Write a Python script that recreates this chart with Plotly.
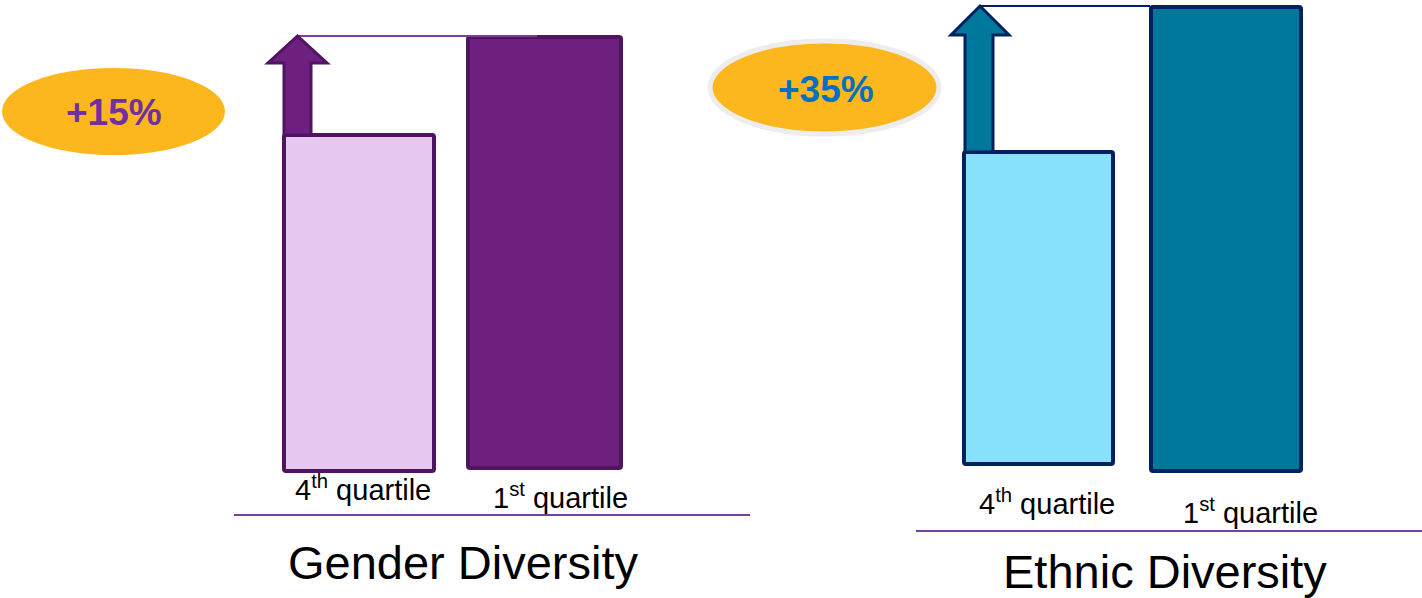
import plotly.graph_objects as go

quartiles = ["4<sup>th</sup> quartile", "1<sup>st</sup> quartile"]
panel_titles = ["Gender Diversity", "Ethnic Diversity"]
uplift_labels = ["+15%", "+35%"]

gender_base = [127, 130]
gender_height = [336, 431]
ethnic_base = [134, 127]
ethnic_height = [312, 464]

# ---- layout constants ----
W, H = 1422, 598
FONT = "Liberation Sans, Arial, sans-serif"

panels = [
    dict(base=gender_base, height=gender_height, x=[359, 544.5], w=[150, 153],
         fills=["#E8C8F0", "#6E2080"], border="#4F1560", arrow_fill="#6E2080",
         shaft=(284, 311), head=(268, 327), head_h=26, line_end=537, line_col="#7B3F9A",
         ell=(2, 225, 598 - 155, 598 - 68), ell_line=None, txt_col="#7030A0",
         txt_xy=(114, 598 - 112),
         lab_xy=[(363, 598 - 488), (560, 598 - 496)], base_line=(234, 750, 598 - 515),
         title_xy=(463, 598 - 562)),
    dict(base=ethnic_base, height=ethnic_height, x=[1038.5, 1226], w=[149, 150],
         fills=["#87E0FC", "#00789C"], border="#002060", arrow_fill="#00789C",
         shaft=(965, 993), head=(951, 1009), head_h=28, line_end=1150, line_col="#002060",
         ell=(710, 939, 598 - 134, 598 - 41), ell_line="#EDEDED", txt_col="#0070C0",
         txt_xy=(826, 598 - 89),
         lab_xy=[(1047, 598 - 502), (1250, 598 - 511)], base_line=(916, 1422, 598 - 531),
         title_xy=(1165, 598 - 571)),
]

fig = go.Figure()
shapes = []
annotations = []

for i, p in enumerate(panels):
    fig.add_trace(go.Bar(
        x=p["x"], y=p["height"], base=p["base"], width=p["w"],
        marker=dict(color=p["fills"], line=dict(color=p["border"], width=4), cornerradius=2),
        hoverinfo="skip", showlegend=False,
    ))
    top4 = p["base"][0] + p["height"][0]
    top1 = p["base"][1] + p["height"][1]
    sl, sr = p["shaft"]
    hl, hr = p["head"]
    tipx = (hl + hr) / 2
    hb = top1 - p["head_h"]
    # connector line from arrow tip to the taller bar
    shapes.append(dict(type="line", xref="x", yref="y", x0=tipx, x1=p["line_end"],
                       y0=top1 + 1, y1=top1 + 1, line=dict(color=p["line_col"], width=2)))
    # arrow
    path = (f"M {sl},{top4} L {sl},{hb} L {hl},{hb} L {tipx},{top1 + 1} L {hr},{hb} "
            f"L {sr},{hb} L {sr},{top4} Z")
    shapes.append(dict(type="path", xref="x", yref="y", path=path,
                       fillcolor=p["arrow_fill"], line=dict(color=p["border"], width=3)))
    # ellipse
    x0, x1, y0, y1 = p["ell"]
    shapes.append(dict(type="circle", xref="x", yref="y", x0=x0, x1=x1, y0=y0, y1=y1,
                       fillcolor="#FDB71E",
                       line=dict(color=p["ell_line"] or "#FDB71E",
                                 width=5 if p["ell_line"] else 0)))
    annotations.append(dict(x=p["txt_xy"][0], y=p["txt_xy"][1], xref="x", yref="y",
                            text=f"<b>{uplift_labels[i]}</b>", showarrow=False,
                            font=dict(family=FONT, size=37, color=p["txt_col"]),
                            xanchor="center", yanchor="middle"))
    # baseline
    bx0, bx1, by = p["base_line"]
    shapes.append(dict(type="line", xref="x", yref="y", x0=bx0, x1=bx1, y0=by, y1=by,
                       line=dict(color="#7B3F9A", width=2)))
    # quartile labels
    for j, q in enumerate(quartiles):
        lx, ly = p["lab_xy"][j]
        annotations.append(dict(x=lx, y=ly, xref="x", yref="y", text=q, showarrow=False,
                                font=dict(family=FONT, size=29, color="#000000"),
                                xanchor="center", yanchor="middle"))
    # panel title
    tx, ty = p["title_xy"]
    annotations.append(dict(x=tx, y=ty, xref="x", yref="y", text=panel_titles[i],
                            showarrow=False, font=dict(family=FONT, size=47, color="#000000"),
                            xanchor="center", yanchor="middle"))

fig.update_layout(
    width=W, height=H, margin=dict(l=0, r=0, t=0, b=0),
    paper_bgcolor="white", plot_bgcolor="white",
    barmode="overlay", bargap=0,
    xaxis=dict(range=[0, W], visible=False, fixedrange=True),
    yaxis=dict(range=[0, H], visible=False, fixedrange=True),
    shapes=shapes, annotations=annotations,
)

fig.write_html("out.html", config={"displayModeBar": False})
